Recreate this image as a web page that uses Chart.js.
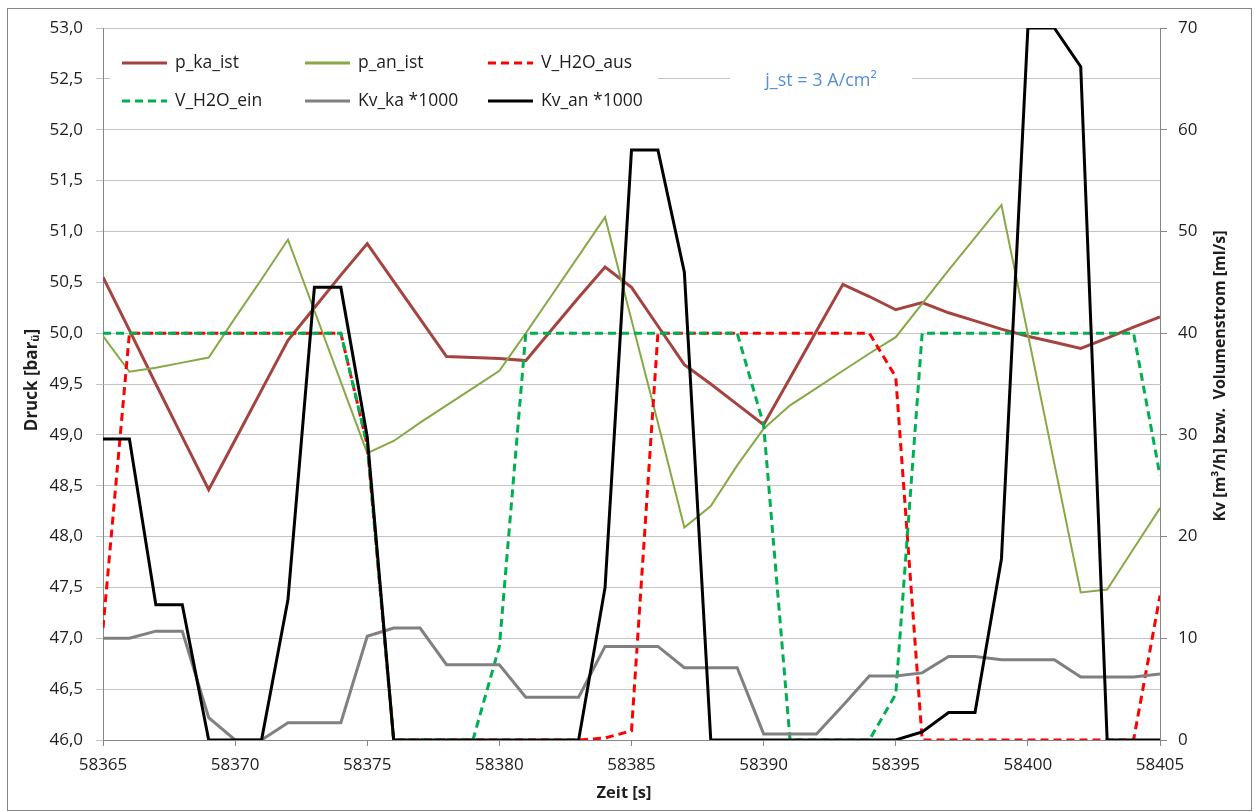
<!DOCTYPE html>
<html>
<head>
<meta charset="utf-8">
<script src="https://cdn.jsdelivr.net/npm/chart.js@4"></script>
<style>
  body { margin: 0; background: #fff; }
  canvas { display: block; }
</style>
</head>
<body>
<canvas id="chart" width="1255" height="811"></canvas>
<script>
const zeit = [58365, 58366, 58367, 58368, 58369, 58370, 58371, 58372, 58373, 58374,
              58375, 58376, 58377, 58378, 58379, 58380, 58381, 58382, 58383, 58384,
              58385, 58386, 58387, 58388, 58389, 58390, 58391, 58392, 58393, 58394,
              58395, 58396, 58397, 58398, 58399, 58400, 58401, 58402, 58403, 58404, 58405];

// Druck [bar] (linke Achse)
const p_ka_ist = [50.55, 50.03, 49.50, 48.98, 48.46, 48.95, 49.44, 49.93, 50.25, 50.57,
                  50.88, 50.51, 50.14, 49.77, 49.76, 49.75, 49.73, 50.04, 50.35, 50.65,
                  50.45, 50.07, 49.69, 49.50, 49.30, 49.10, 49.56, 50.02, 50.48, 50.36,
                  50.23, 50.30, 50.20, 50.12, 50.04, 49.97, 49.91, 49.85, 49.95, 50.06, 50.16];
const p_an_ist = [49.97, 49.62, 49.66, 49.71, 49.76, 50.15, 50.53, 50.92, 50.22, 49.52,
                  48.82, 48.94, 49.12, 49.29, 49.46, 49.63, 50.00, 50.38, 50.76, 51.14,
                  50.13, 49.12, 48.09, 48.30, 48.70, 49.06, 49.29, 49.46, 49.63, 49.80,
                  49.96, 50.29, 50.62, 50.94, 51.26, 49.99, 48.72, 47.45, 47.48, 47.88, 48.28];

// Kv bzw. Volumenstrom (rechte Achse)
const v_h2o_aus = [11, 40, 40, 40, 40, 40, 40, 40, 40, 40,
                   29, 0, 0, 0, 0, 0, 0, 0, 0, 0.2,
                   0.9, 40, 40, 40, 40, 40, 40, 40, 40, 40,
                   35.7, 0, 0, 0, 0, 0, 0, 0, 0, 0, 14.2];
const v_h2o_ein = [40, 40, 40, 40, 40, 40, 40, 40, 40, 40,
                   29, 0, 0, 0, 0, 9.2, 40, 40, 40, 40,
                   40, 40, 40, 40, 40, 31, 0, 0, 0, 0,
                   4.5, 40, 40, 40, 40, 40, 40, 40, 40, 40, 26];
const kv_ka = [10.0, 10.0, 10.7, 10.7, 2.2, 0, 0, 1.7, 1.7, 1.7,
               10.2, 11.0, 11.0, 7.4, 7.4, 7.4, 4.2, 4.2, 4.2, 9.2,
               9.2, 9.2, 7.1, 7.1, 7.1, 0.6, 0.6, 0.6, 3.4, 6.3,
               6.3, 6.6, 8.2, 8.2, 7.9, 7.9, 7.9, 6.2, 6.2, 6.2, 6.5];
const kv_an = [29.6, 29.6, 13.3, 13.3, 0, 0, 0, 13.8, 44.5, 44.5,
               29.8, 0, 0, 0, 0, 0, 0, 0, 0, 15.0,
               58.0, 58.0, 46.0, 0, 0, 0, 0, 0, 0, 0,
               0, 0.8, 2.7, 2.7, 17.8, 70, 70, 66.2, 0, 0, 0];

const font = "'Open Sans', sans-serif";
const textColor = '#1e1e1e';
const axisColor = '#868686';
const gridColor = '#c4c4c4';

function pts(values) {
  return values.map((v, i) => ({ x: zeit[i], y: v }));
}

function series(label, values, color, width, dash, axis, order) {
  return {
    label: label,
    data: pts(values),
    borderColor: color,
    backgroundColor: color,
    borderWidth: width,
    borderDash: dash,
    pointRadius: 0,
    tension: 0,
    yAxisID: axis,
    order: order
  };
}

const datasets = [
  series('p_ka_ist', p_ka_ist, '#a4433f', 3, [], 'y', 5),
  series('p_an_ist', p_an_ist, '#86a845', 2, [], 'y', 4),
  series('V_H2O_aus', v_h2o_aus, '#ff0000', 3, [8, 5], 'y2', 3),
  series('V_H2O_ein', v_h2o_ein, '#00b050', 3, [8, 5], 'y2', 2),
  series('Kv_ka *1000', kv_ka, '#808080', 3, [], 'y2', 1),
  series('Kv_an *1000', kv_an, '#000000', 3, [], 'y2', 0)
];

const extras = {
  id: 'extras',
  beforeDatasetsDraw(chart) {
    const c = chart.ctx;
    c.save();
    c.fillStyle = '#fff';
    c.fillRect(110, 36, 548, 86);
    c.fillRect(730, 62, 182, 36);
    c.restore();
  },
  afterDatasetsDraw(chart) {
    const c = chart.ctx;
    c.save();
    // legend, 2 rows x 3 columns
    const colX = [122, 305, 488];
    const rowY = [63, 101];
    datasets.forEach((ds, i) => {
      const x = colX[i % 3];
      const y = rowY[Math.floor(i / 3)];
      c.strokeStyle = ds.borderColor;
      c.lineWidth = 3;
      c.setLineDash(ds.borderDash);
      c.beginPath();
      c.moveTo(x, y);
      c.lineTo(x + 45, y);
      c.stroke();
      c.setLineDash([]);
      c.fillStyle = textColor;
      c.font = '17.5px ' + font;
      c.textBaseline = 'middle';
      c.textAlign = 'left';
      c.fillText(ds.label, x + 53, y);
    });
    c.fillStyle = '#558ed5';
    c.font = '18px ' + font;
    c.textAlign = 'center';
    c.fillText('j_st = 3 A/cm\u00b2', 821, 81);
    c.restore();
  },
  afterDraw(chart) {
    const c = chart.ctx;
    c.save();
    c.fillStyle = textColor;
    c.textBaseline = 'middle';

    // left title with subscript
    c.save();
    c.translate(32, 380);
    c.rotate(-Math.PI / 2);
    c.font = 'bold 17px ' + font;
    const a = 'Druck [bar', b = 'ü', d = ']';
    const wa = c.measureText(a).width;
    const wd = c.measureText(d).width;
    c.font = 'bold 11px ' + font;
    const wb = c.measureText(b).width;
    let x0 = -(wa + wb + wd) / 2;
    c.textAlign = 'left';
    c.font = 'bold 17px ' + font;
    c.fillText(a, x0, 0);
    c.font = 'bold 11px ' + font;
    c.fillText(b, x0 + wa, 4);
    c.font = 'bold 17px ' + font;
    c.fillText(d, x0 + wa + wb, 0);
    c.restore();

    // right title, reading bottom to top
    c.save();
    c.translate(1220, 376);
    c.rotate(-Math.PI / 2);
    c.font = 'bold 16px ' + font;
    c.textAlign = 'center';
    c.fillText('Kv [m\u00b3/h] bzw.  Volumenstrom [ml/s]', 0, 0);
    c.restore();

    // x title
    c.font = 'bold 16.5px ' + font;
    c.textAlign = 'center';
    c.fillText('Zeit [s]', 624, 793);

    // outer frame
    c.strokeStyle = axisColor;
    c.lineWidth = 1;
    c.strokeRect(7.5, 8.5, 1244, 802);
    c.restore();
  }
};

new Chart(document.getElementById('chart'), {
  type: 'line',
  data: { datasets: datasets },
  plugins: [extras],
  options: {
    responsive: false,
    animation: false,
    layout: { padding: { top: 28 } },
    plugins: {
      legend: { display: false },
      tooltip: { enabled: false }
    },
    scales: {
      x: {
        type: 'linear',
        min: 58365,
        max: 58405,
        ticks: {
          stepSize: 5,
          padding: 9,
          color: textColor,
          font: { family: font, size: 17 },
          callback: v => String(v),
          maxRotation: 0
        },
        grid: { drawOnChartArea: false, tickLength: 6, color: axisColor },
        border: { color: axisColor },
        afterFit: s => { s.height = 71; }
      },
      y: {
        position: 'left',
        min: 46,
        max: 53,
        ticks: {
          stepSize: 0.5,
          padding: 13,
          color: textColor,
          font: { family: font, size: 17 },
          callback: v => v.toFixed(1).replace('.', ',')
        },
        grid: { color: gridColor, tickLength: 7 },
        border: { color: axisColor },
        afterFit: s => { s.width = 103; }
      },
      y2: {
        position: 'right',
        min: 0,
        max: 70,
        ticks: {
          stepSize: 10,
          padding: 11,
          color: textColor,
          font: { family: font, size: 17 }
        },
        grid: { drawOnChartArea: false, tickLength: 7, color: axisColor },
        border: { color: axisColor },
        afterFit: s => { s.width = 95; }
      }
    }
  }
});
</script>
</body>
</html>
